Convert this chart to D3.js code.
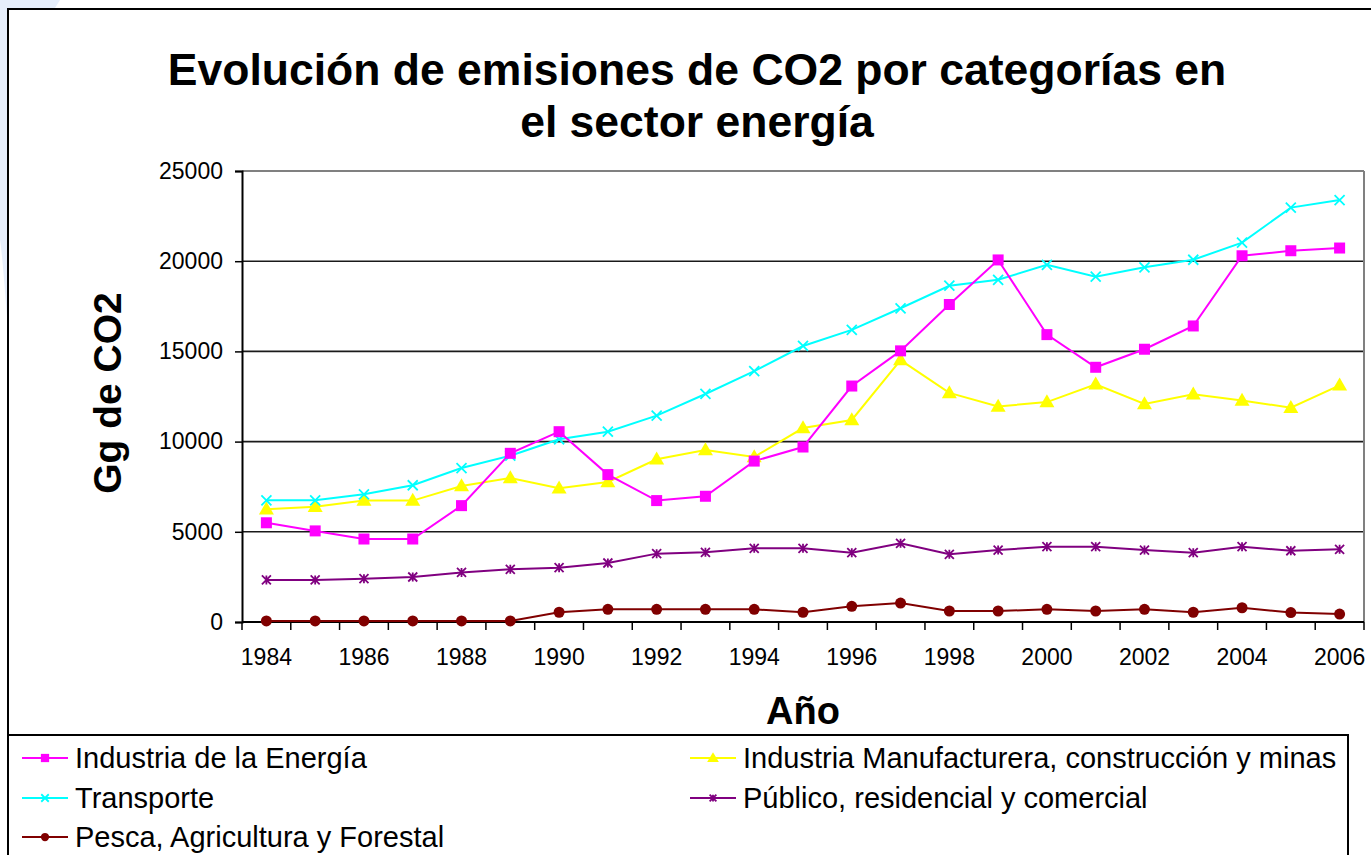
<!DOCTYPE html>
<html><head><meta charset="utf-8">
<script src="https://cdn.jsdelivr.net/npm/d3@7"></script>
<style>
body{margin:0;background:#fff}
svg{display:block}
text{font-family:Arial,"Liberation Sans",Helvetica,sans-serif;fill:#000}
</style>
</head><body>
<svg id="c" width="1371" height="855"></svg>
<script>
const years = [1984,1985,1986,1987,1988,1989,1990,1991,1992,1993,1994,1995,1996,1997,1998,1999,2000,2001,2002,2003,2004,2005,2006];
const energia = [5500,5050,4600,4600,6450,9350,10550,8170,6730,6970,8920,9700,13080,15030,17600,20070,15930,14120,15120,16410,20300,20580,20730];
const manufactura = [6250,6390,6730,6730,7540,7980,7410,7760,9020,9530,9150,10750,11200,14520,12700,11950,12190,13180,12090,12630,12280,11880,13120];
const transporte = [6745,6745,7080,7580,8535,9220,10130,10550,11440,12640,13910,15300,16190,17390,18640,18970,19800,19140,19660,20080,21030,22970,23390];
const publico = [2330,2330,2400,2495,2750,2920,3010,3270,3790,3860,4085,4085,3840,4360,3750,3990,4175,4175,3990,3840,4175,3950,4030];
const pesca = [60,60,60,60,60,60,540,700,700,700,700,540,870,1050,610,610,700,610,700,540,790,520,440];
const yTicks = [0,5000,10000,15000,20000,25000];
const xLabelYears = [1984,1986,1988,1990,1992,1994,1996,1998,2000,2002,2004,2006];
const titleLines = ["Evolución de emisiones de CO2 por categorías en","el sector energía"];
const yTitle = "Gg de CO2";
const xTitle = "Año";

const series = [
  {name:"Industria de la Energía", values:energia, color:"#FF00FF", sym:"square"},
  {name:"Industria Manufacturera, construcción y minas", values:manufactura, color:"#FFFF00", sym:"triangle"},
  {name:"Transporte", values:transporte, color:"#00FFFF", sym:"x"},
  {name:"Público, residencial y comercial", values:publico, color:"#800080", sym:"asterisk"},
  {name:"Pesca, Agricultura y Forestal", values:pesca, color:"#800000", sym:"circle"}
];

const svg = d3.select("#c");

// faint decorative background swoosh at left edge
svg.append("path")
  .attr("d","M0,0 L60,0 Q20,60 8,200 L8,330 Q2,250 0,240 Z")
  .attr("fill","#e6eefb");

// outer chart border
svg.append("rect").attr("x",8).attr("y",9).attr("width",1400).attr("height",900)
  .attr("fill","#fff").attr("stroke","#000").attr("stroke-width",2);

const x = d3.scaleBand().domain(years).range([242,1364]).padding(0);
const y = d3.scaleLinear().domain([0,25000]).range([622,171]);
const cx = d => x(d) + x.bandwidth()/2;

// gridlines
svg.append("g").selectAll("line").data(yTicks.filter(t=>t>0)).join("line")
  .attr("x1",242).attr("x2",1364)
  .attr("y1",d=>y(d)).attr("y2",d=>y(d))
  .attr("stroke",d=>d===25000?"#808080":"#1a1a1a")
  .attr("stroke-width",d=>d===25000?2:1.6);
// right border of plot area
svg.append("line").attr("x1",1364).attr("x2",1364).attr("y1",y(25000)).attr("y2",y(0))
  .attr("stroke","#808080").attr("stroke-width",2);

// y axis
const yAxis = svg.append("g").attr("transform","translate(242,0)")
  .call(d3.axisLeft(y).tickValues(yTicks).tickSize(7).tickPadding(12).tickFormat(d3.format("d")));
yAxis.select(".domain").attr("stroke","#000").attr("stroke-width",2);
yAxis.selectAll(".tick line").attr("stroke","#000").attr("stroke-width",1.5);
yAxis.selectAll("text").style("font-size","23px").attr("font-family",null);

// x axis: labels at category centers, ticks at category boundaries
const xAxis = svg.append("g").attr("transform","translate(0,622)")
  .call(d3.axisBottom(x).tickValues(xLabelYears).tickSize(0).tickPadding(27));
xAxis.select(".domain").remove();
xAxis.selectAll("text").style("font-size","23px").attr("font-family",null);
svg.append("line").attr("x1",242).attr("x2",1364).attr("y1",622).attr("y2",622)
  .attr("stroke","#000").attr("stroke-width",2);
svg.append("g").selectAll("line").data(years.map(d=>x(d)).concat([1364])).join("line")
  .attr("x1",d=>d).attr("x2",d=>d).attr("y1",622).attr("y2",630)
  .attr("stroke","#000").attr("stroke-width",1.5);

// marker drawing
function marker(g, sym, color, s){
  if(sym==="square"){
    g.append("rect").attr("x",-s/2).attr("y",-s/2).attr("width",s).attr("height",s).attr("fill",color);
  } else if(sym==="triangle"){
    const h=s*0.9;
    g.append("path").attr("d",`M0,${-h*0.66}L${s/2+1},${h*0.45}L${-s/2-1},${h*0.45}Z`).attr("fill",color);
  } else if(sym==="circle"){
    g.append("circle").attr("r",s/2).attr("fill",color);
  } else if(sym==="x"){
    const r=s/2;
    g.append("path").attr("d",`M${-r},${-r}L${r},${r}M${-r},${r}L${r},${-r}`).attr("stroke",color).attr("stroke-width",1.8);
  } else if(sym==="asterisk"){
    const r=s/2;
    g.append("path").attr("d",`M${-r},${-r}L${r},${r}M${-r},${r}L${r},${-r}M0,${-r}L0,${r}`).attr("stroke",color).attr("stroke-width",1.8);
  }
}
const msize = {square:11, triangle:13, circle:11, x:10, asterisk:9};

const line = d3.line().x((d,i)=>cx(years[i])).y(d=>y(d));
const plot = svg.append("g");
// draw order: bottom series first
[4,3,1,2,0].forEach(k=>{
  const s = series[k];
  plot.append("path").datum(s.values).attr("d",line)
    .attr("fill","none").attr("stroke",s.color).attr("stroke-width",2);
});
[4,3,1,2,0].forEach(k=>{
  const s = series[k];
  s.values.forEach((v,i)=>{
    const g = plot.append("g").attr("transform",`translate(${cx(years[i])},${y(v)})`);
    marker(g, s.sym, s.color, msize[s.sym]);
  });
});

// titles
svg.append("text").attr("x",697).attr("text-anchor","middle")
  .style("font-size","44.5px").style("font-weight","bold")
  .selectAll("tspan").data(titleLines).join("tspan")
  .attr("x",697).attr("y",(d,i)=>85+i*52).text(d=>d);

svg.append("text").attr("transform","translate(121,393) rotate(-90)")
  .attr("text-anchor","middle").style("font-size","39px").style("font-weight","bold").text(yTitle);

svg.append("text").attr("x",803).attr("y",724).attr("text-anchor","middle")
  .style("font-size","38px").style("font-weight","bold").text(xTitle);

// legend
svg.append("rect").attr("x",8).attr("y",735).attr("width",1340).attr("height",140)
  .attr("fill","#fff").attr("stroke","#000").attr("stroke-width",2);
const legendPos = [
  {x:22, y:758}, {x:690, y:758}, {x:22, y:798}, {x:690, y:798}, {x:22, y:837}
];
series.forEach((s,i)=>{
  const p = legendPos[i];
  const g = svg.append("g").attr("transform",`translate(${p.x},${p.y})`);
  g.append("line").attr("x1",0).attr("x2",46).attr("y1",0).attr("y2",0)
    .attr("stroke",s.color).attr("stroke-width",2);
  const m = g.append("g").attr("transform","translate(23,0)");
  marker(m, s.sym, s.color, msize[s.sym]*0.75);
  g.append("text").attr("x",53).attr("y",10).style("font-size","29px").text(s.name);
});
</script>
</body></html>
